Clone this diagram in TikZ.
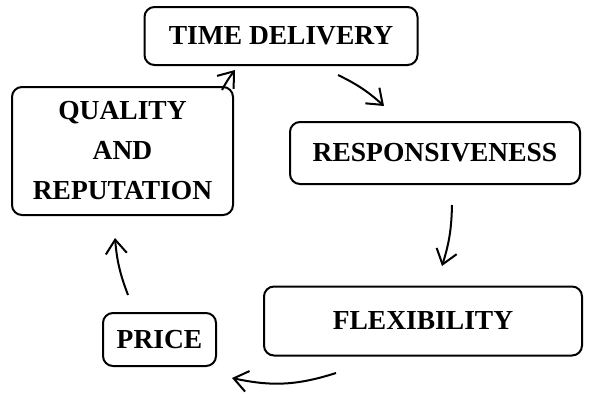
\documentclass[tikz,border=0pt]{standalone}
\usepackage{fontspec}
\setmainfont{Liberation Serif}
\usetikzlibrary{arrows.meta}
\begin{document}
\begin{tikzpicture}[x=1pt, y=-1pt,
    factor/.style={rectangle, draw, line width=2pt, rounded corners=10pt, align=center,
      font=\fontsize{27.5}{40}\selectfont\bfseries, inner sep=0pt},
    flow/.style={-{Straight Barb[length=14pt, width=21pt, line width=2pt]}, line width=2pt}]
    \useasboundingbox (0,0) rectangle (589,394);
    \node[factor, minimum width=273, minimum height=58] (time) at (281,36) {TIME DELIVERY};
    \node[factor, minimum width=221, minimum height=128] (quality) at (122.5,151) {QUALITY\\AND\\REPUTATION};
    \node[factor, minimum width=290, minimum height=62] (resp) at (435,153) {RESPONSIVENESS};
    \node[factor, minimum width=318, minimum height=69] (flex) at (423,321) {FLEXIBILITY};
    \node[factor, minimum width=113, minimum height=53] (price) at (159.5,339.5) {PRICE};
    % arrow ends
    \coordinate (t1) at (338,75);
    \coordinate (r0) at (384,106);
    \coordinate (r1) at (452,205);
    \coordinate (f0) at (442,266);
    \coordinate (f1) at (336,373);
    \coordinate (p0) at (232,378);
    \coordinate (p1) at (128,295);
    \coordinate (q0) at (115,238);
    \coordinate (q1) at (222,90);
    \coordinate (t0) at (235,70);
    \draw[flow] (t1) to[bend left=8] (r0);
    \draw[flow] (r1) to[bend left=8] (f0);
    \draw[flow] (f1) to[bend left=15] (p0);
    \draw[flow] (p1) to[bend left=8] (q0);
    \draw[flow] (q1) to[bend left=5] (t0);
\end{tikzpicture}
\end{document}
